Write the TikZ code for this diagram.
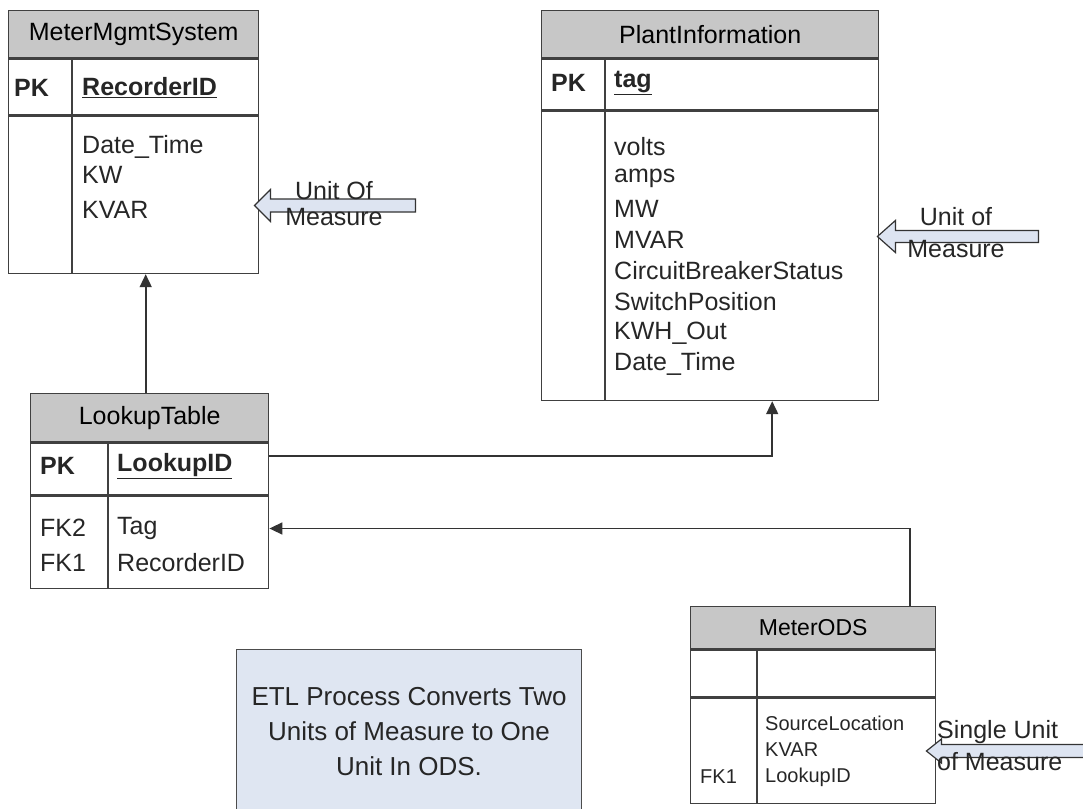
\documentclass[tikz,border=0pt]{standalone}
\usepackage{fontspec}
\setmainfont{Liberation Sans}
\usetikzlibrary{arrows.meta}
\usetikzlibrary{positioning}
\definecolor{uomfill}{HTML}{DDE4F1}
\definecolor{etlfill}{HTML}{DFE6F2}
\tikzset{
  tbl/.style={draw=black!75, line width=1.4pt, anchor=north west, inner sep=0pt},
  tblhead/.style={tbl, fill=black!22, font=\fontsize{25}{28}\selectfont},
  tbldiv/.style={draw=black!75, line width=1.4pt},
  fld/.style={anchor=west, inner sep=0pt, text=black!85, font=\fontsize{25}{28}\selectfont},
  keyfld/.style={fld, font=\fontsize{25}{28}\selectfont\bfseries},
  odsfld/.style={fld, font=\fontsize{20}{24}\selectfont},
  rel/.style={draw=black!80, line width=1.6pt, -{Triangle[length=13pt,width=12pt]}},
  uom/.style={draw=black!80, line width=1.2pt, fill=uomfill, line join=miter},
  uomtext/.style={inner sep=0pt, text=black!85, font=\fontsize{25}{32}\selectfont}
}
\begin{document}
\begin{tikzpicture}[x=1pt,y=-1pt]
  \useasboundingbox (0,0) rectangle (1083,808);

  \node (mmshead) [tblhead, minimum width=250pt, minimum height=47pt] at (8,10) {MeterMgmtSystem};
  \node (mmspk) [tbl, below=0pt of mmshead.south west, anchor=north west, minimum width=250pt, minimum height=56pt] {};
  \node (mmsbody) [tbl, below=0pt of mmspk.south west, anchor=north west, minimum width=250pt, minimum height=157pt] {};
  \draw[tbldiv] ([xshift=64pt]mmspk.north west) -- ([xshift=64pt]mmsbody.south west);
  \node (mmspkkey) [keyfld] at (14,88) {PK};
  \node (mmspkname) [keyfld] at (82,88) {\underline{RecorderID}};
  \foreach \f/\y [count=\i] in {Date\_Time/147, KW/175, KVAR/210}
    \node (mmsf\i) [fld] at (82,\y) {\f};

  \node (planthead) [tblhead, minimum width=337pt, minimum height=47pt] at (541,10) {PlantInformation};
  \node (plantpk) [tbl, below=0pt of planthead.south west, anchor=north west, minimum width=337pt, minimum height=51pt] {};
  \node (plantbody) [tbl, below=0pt of plantpk.south west, anchor=north west, minimum width=337pt, minimum height=289pt] {};
  \draw[tbldiv] ([xshift=64pt]plantpk.north west) -- ([xshift=64pt]plantbody.south west);
  \node (plantpkkey) [keyfld] at (551,83) {PK};
  \node (plantpkname) [keyfld] at (614,83) {\underline{tag}};
  \foreach \f [count=\i] in {volts, amps, MW, MVAR, CircuitBreakerStatus, SwitchPosition, KWH\_Out, Date\_Time}
    \node (plantf\i) [fld] at (614,116+31*\i) {\f};

  \node (luthead) [tblhead, minimum width=238pt, minimum height=48pt] at (30,393) {LookupTable};
  \node (lutpk) [tbl, below=0pt of luthead.south west, anchor=north west, minimum width=238pt, minimum height=52pt] {};
  \node (lutbody) [tbl, below=0pt of lutpk.south west, anchor=north west, minimum width=238pt, minimum height=92pt] {};
  \draw[tbldiv] ([xshift=78pt]lutpk.north west) -- ([xshift=78pt]lutbody.south west);
  \node (lutpkkey) [keyfld] at (40,466) {PK};
  \node (lutpkname) [keyfld] at (117,466) {\underline{LookupID}};
  \node (lutfk2) [fld] at (40,528) {FK2};
  \node (lutfk1) [fld] at (40,563) {FK1};
  \node (lutf1) [fld] at (117,528) {Tag};
  \node (lutf2) [fld] at (117,563) {RecorderID};

  \node (odshead) [tblhead, minimum width=245pt, minimum height=42pt, font=\fontsize{23}{26}\selectfont] at (690,606) {MeterODS};
  \node (odspk) [tbl, below=0pt of odshead.south west, anchor=north west, minimum width=245pt, minimum height=47pt] {};
  \node (odsbody) [tbl, below=0pt of odspk.south west, anchor=north west, minimum width=245pt, minimum height=105pt] {};
  \draw[tbldiv] ([xshift=67pt]odspk.north west) -- ([xshift=67pt]odsbody.south west);
  \node (odsfk1) [odsfld] at (700,777) {FK1};
  \foreach \f/\y [count=\i] in {SourceLocation/723, KVAR/750, LookupID/777}
    \node (odsf\i) [odsfld] at (765,\y) {\f};

  \node (etl) [draw=black!70, line width=1pt, fill=etlfill, anchor=north west, minimum width=345pt, minimum height=165pt,
    align=center, text=black!85, font=\fontsize{26}{35}\selectfont] at (236,649)
    {ETL Process Converts Two\\Units of Measure to One\\Unit In ODS.};

  \path (node cs:name=luthead,anchor=north) +(-4,0) coordinate (lutup);
  \draw[rel] (lutup) -- (lutup |- mmsbody.south);
  \draw[rel] ([yshift=13pt]lutpk.east) -| ([xshift=62pt]plantbody.south);
  \draw[rel] ([xshift=97pt]odshead.north) |- ([yshift=14pt]lutbody.east);

  \path (node cs:name=mmsbody,anchor=east) +(-5,10.5) coordinate (uom1);
  \draw[uom] (uom1) -- ++(16,-16) -- ++(0,9.5) -- ++(145,0) -- ++(0,13) -- ++(-145,0) -- ++(0,9.5) -- cycle;
  \node (uomtxt1) [uomtext, align=center, font=\fontsize{25}{26}\selectfont] at (334,204) {Unit Of\\Measure};

  \path (node cs:name=plantbody,anchor=east) +(-2,-19.5) coordinate (uom2);
  \draw[uom] (uom2) -- ++(18,-16) -- ++(0,10) -- ++(143,0) -- ++(0,12) -- ++(-143,0) -- ++(0,10) -- cycle;
  \node (uomtxt2) [uomtext, align=center] at (956,233) {Unit of\\Measure};

  \path (node cs:name=odsbody,anchor=east) +(-10,0) coordinate (uom3);
  \draw[uom] (uom3) -- ++(15,-12) -- ++(0,5.5) -- ++(145,0) -- ++(0,13) -- ++(-145,0) -- ++(0,5.5) -- cycle;
  \node (uomtxt3) [uomtext, align=left, anchor=west] at (937,746) {Single Unit\\of Measure};
\end{tikzpicture}
\end{document}
